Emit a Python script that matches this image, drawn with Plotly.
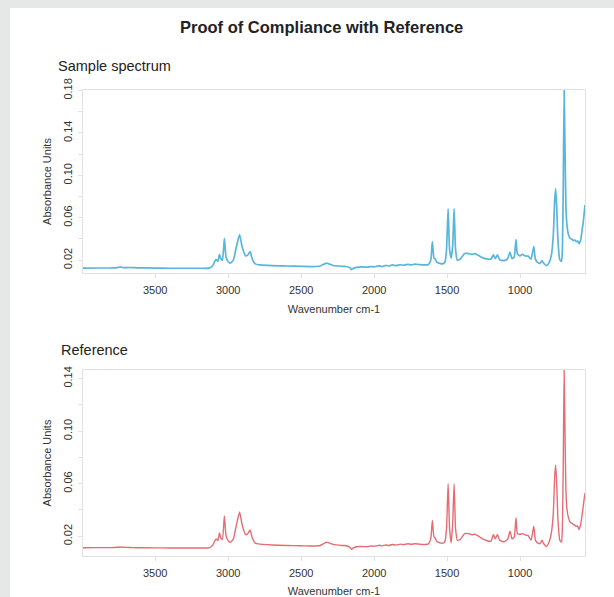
import plotly.graph_objects as go

# Wavenumbers (cm-1) and absorbance readings for the two spectra
wavenumber = [
    3995, 3900, 3800, 3760, 3740, 3720, 3680, 3620, 3500, 3400, 3300, 3200, 3130,
    3105, 3090, 3082, 3070, 3060, 3050, 3040, 3026, 3015, 3000, 2985, 2965, 2945,
    2922, 2905, 2880, 2865, 2850, 2835, 2815, 2780, 2700, 2600, 2500, 2420, 2370,
    2340, 2325, 2310, 2280, 2220, 2190, 2165, 2155, 2145, 2120, 2080, 2050, 2020,
    2000, 1980, 1960, 1945, 1920, 1900, 1875, 1850, 1820, 1800, 1770, 1745, 1720,
    1690, 1660, 1630, 1612, 1601, 1590, 1583, 1570, 1550, 1530, 1515, 1504, 1493,
    1483, 1472, 1462, 1452, 1442, 1430, 1410, 1380, 1360, 1330, 1310, 1290, 1260,
    1230, 1200, 1182, 1170, 1155, 1140, 1110, 1085, 1069, 1055, 1040, 1028, 1018,
    1000, 985, 965, 945, 925, 906, 895, 880, 863, 850, 840, 820, 800, 785, 772,
    763, 756, 749, 740, 728, 716, 710, 704, 698, 692, 686, 678, 668, 656, 646, 636, 625,
    615, 605, 596, 585, 575, 567, 560, 555,
]

sample_abs = [
    0.0125, 0.0126, 0.0127, 0.0130, 0.0136, 0.0130, 0.0131, 0.0128, 0.0125, 0.0124, 0.0124, 0.0124, 0.0125,
    0.0150, 0.0195, 0.0205, 0.0190, 0.0255, 0.0210, 0.0200, 0.0405, 0.0230, 0.0185, 0.0172, 0.0200, 0.0320,
    0.0442, 0.0330, 0.0240, 0.0250, 0.0280, 0.0210, 0.0165, 0.0155, 0.0148, 0.0145, 0.0142, 0.0140, 0.0145,
    0.0165, 0.0172, 0.0165, 0.0150, 0.0142, 0.0140, 0.0128, 0.0110, 0.0122, 0.0132, 0.0136, 0.0134, 0.0140,
    0.0137, 0.0143, 0.0146, 0.0140, 0.0150, 0.0145, 0.0155, 0.0148, 0.0157, 0.0152, 0.0160, 0.0156, 0.0162,
    0.0158, 0.0155, 0.0157, 0.0200, 0.0375, 0.0220, 0.0215, 0.0180, 0.0170, 0.0165, 0.0180, 0.0300, 0.0684,
    0.0300, 0.0220, 0.0330, 0.0684, 0.0300, 0.0200, 0.0210, 0.0262, 0.0265, 0.0255, 0.0262, 0.0248, 0.0225,
    0.0212, 0.0210, 0.0250, 0.0215, 0.0250, 0.0205, 0.0195, 0.0215, 0.0275, 0.0215, 0.0230, 0.0395, 0.0260,
    0.0240, 0.0255, 0.0240, 0.0238, 0.0210, 0.0327, 0.0210, 0.0180, 0.0170, 0.0195, 0.0175, 0.0148, 0.0180, 0.0250, 0.0440,
    0.0760, 0.0876, 0.0700, 0.0380, 0.0205, 0.0188, 0.0300, 0.0900, 0.1800, 0.1250, 0.0720, 0.0520, 0.0440, 0.0405, 0.0400, 0.0385, 0.0390,
    0.0375, 0.0380, 0.0355, 0.0390, 0.0480, 0.0560, 0.0650, 0.0720,
]

reference_abs = [
    0.0113, 0.0114, 0.0114, 0.0116, 0.0118, 0.0116, 0.0115, 0.0113, 0.0112, 0.0111, 0.0111, 0.0111, 0.0112,
    0.0133, 0.0170, 0.0180, 0.0168, 0.0225, 0.0185, 0.0178, 0.0355, 0.0205, 0.0165, 0.0155, 0.0178, 0.0280,
    0.0385, 0.0290, 0.0212, 0.0222, 0.0248, 0.0188, 0.0148, 0.0140, 0.0134, 0.0130, 0.0128, 0.0126, 0.0130,
    0.0148, 0.0155, 0.0150, 0.0138, 0.0130, 0.0128, 0.0115, 0.0100, 0.0110, 0.0120, 0.0122, 0.0120, 0.0126,
    0.0124, 0.0128, 0.0132, 0.0127, 0.0134, 0.0130, 0.0138, 0.0133, 0.0140, 0.0136, 0.0143, 0.0139, 0.0143,
    0.0140, 0.0138, 0.0140, 0.0180, 0.0320, 0.0195, 0.0190, 0.0160, 0.0150, 0.0148, 0.0160, 0.0260, 0.0600,
    0.0260, 0.0150, 0.0290, 0.0600, 0.0260, 0.0170, 0.0175, 0.0220, 0.0222, 0.0212, 0.0215, 0.0205, 0.0182,
    0.0168, 0.0162, 0.0213, 0.0180, 0.0213, 0.0170, 0.0158, 0.0178, 0.0238, 0.0180, 0.0195, 0.0340, 0.0220,
    0.0215, 0.0220, 0.0210, 0.0205, 0.0170, 0.0276, 0.0172, 0.0150, 0.0145, 0.0170, 0.0148, 0.0122, 0.0160, 0.0230, 0.0380,
    0.0650, 0.0743, 0.0600, 0.0320, 0.0172, 0.0155, 0.0260, 0.0750, 0.1463, 0.1000, 0.0560, 0.0400, 0.0340, 0.0305, 0.0300, 0.0290, 0.0285,
    0.0275, 0.0278, 0.0250, 0.0290, 0.0360, 0.0430, 0.0490, 0.0530,
]

x_ticks = [3500, 3000, 2500, 2000, 1500, 1000]
sample_y_ticks = [0.02, 0.04, 0.06, 0.08, 0.10, 0.12, 0.14, 0.16, 0.18]
reference_y_ticks = [0.02, 0.04, 0.06, 0.08, 0.10, 0.12, 0.14]

W, H = 614, 597
FONT = "Liberation Sans, Arial, sans-serif"
FRAME = "#e2e2e2"
TEXT = "#333333"


def px_x(p):
    return p / W


def px_y(p):
    return 1 - p / H


def y_labels(vals):
    # label every other tick, as the rotated labels would otherwise crowd
    return [f"{v:.2f}" if i % 2 == 0 else "" for i, v in enumerate(vals)]


fig = go.Figure()
fig.add_trace(go.Scatter(x=wavenumber, y=sample_abs, mode="lines",
                         line=dict(color="#58b5dc", width=1.7, shape="spline", smoothing=0.5),
                         xaxis="x", yaxis="y", showlegend=False))
fig.add_trace(go.Scatter(x=wavenumber, y=reference_abs, mode="lines",
                         line=dict(color="#e56c75", width=1.4, shape="spline", smoothing=0.5),
                         xaxis="x2", yaxis="y2", showlegend=False))

x_dom = [px_x(83), px_x(585)]

common_x = dict(
    range=[3995, 555], tickvals=x_ticks, ticktext=[str(t) for t in x_ticks],
    showgrid=False, zeroline=False, showline=True, mirror=True, linecolor=FRAME,
    linewidth=1, ticks="outside", ticklen=4, tickcolor=FRAME, ticklabelstandoff=3,
    tickfont=dict(family=FONT, size=11, color=TEXT),
    title=dict(text="Wavenumber cm-1", font=dict(family=FONT, size=11, color=TEXT), standoff=10),
    automargin=False, domain=x_dom,
)
common_y = dict(
    showgrid=False, zeroline=False, showline=True, mirror=True, linecolor=FRAME,
    linewidth=1, ticks="outside", ticklen=4, tickcolor=FRAME, tickangle=-90,
    ticklabelstandoff=2,
    tickfont=dict(family=FONT, size=11, color=TEXT),
    title=dict(text="Absorbance Units", font=dict(family=FONT, size=11, color=TEXT), standoff=7),
    automargin=False,
)

fig.update_layout(
    width=W, height=H,
    margin=dict(l=0, r=0, t=0, b=0),
    paper_bgcolor="white", plot_bgcolor="white",
    xaxis=dict(anchor="y", **common_x),
    yaxis=dict(anchor="x", range=[0.0079, 0.1805], domain=[px_y(273), px_y(90)],
               tickvals=sample_y_ticks, ticktext=y_labels(sample_y_ticks), **common_y),
    xaxis2=dict(anchor="y2", **common_x),
    yaxis2=dict(anchor="x2", range=[0.0050, 0.1465], domain=[px_y(556), px_y(370)],
                tickvals=reference_y_ticks, ticktext=y_labels(reference_y_ticks), **common_y),
    shapes=[
        dict(type="rect", xref="paper", yref="paper", x0=0, x1=px_x(10), y0=0, y1=1,
             fillcolor="#e6e8e8", line=dict(width=0), layer="below"),
        dict(type="rect", xref="paper", yref="paper", x0=0, x1=1, y0=px_y(8), y1=1,
             fillcolor="#e6e8e8", line=dict(width=0), layer="below"),
    ],
    annotations=[
        dict(text="<b>Proof of Compliance with Reference</b>", xref="paper", yref="paper",
             x=px_x(321), y=px_y(27), xanchor="center", yanchor="middle", showarrow=False,
             font=dict(family=FONT, size=16.5, color="#222222")),
        dict(text="Sample spectrum", xref="paper", yref="paper",
             x=px_x(56), y=px_y(66), xanchor="left", yanchor="middle", showarrow=False,
             font=dict(family=FONT, size=14.5, color="#222222")),
        dict(text="Reference", xref="paper", yref="paper",
             x=px_x(59), y=px_y(350), xanchor="left", yanchor="middle", showarrow=False,
             font=dict(family=FONT, size=14.5, color="#222222")),
    ],
)

fig.write_html("out.html")
